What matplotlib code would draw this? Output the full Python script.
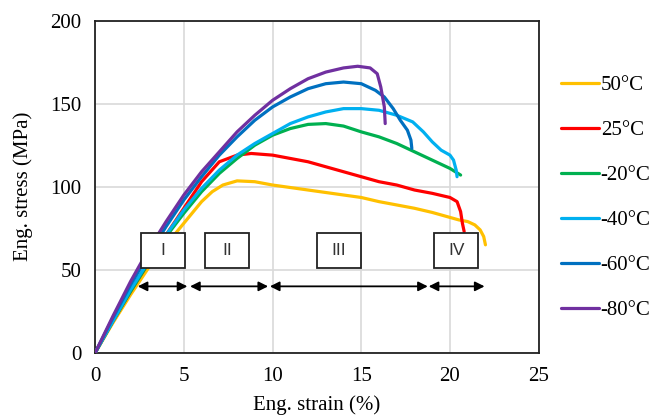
import matplotlib.pyplot as plt
from matplotlib.patches import Rectangle

# stress-strain data
labels = ['50°C', '25°C', '-20°C', '-40°C', '-60°C', '-80°C']
colors = ['#FFC000', '#FF0000', '#00B050', '#00B0F0', '#0070C0', '#7030A0']

strain_50 = [0, 1, 2, 3, 4, 5, 6, 6.6, 7.2, 8, 9, 10, 11, 12, 13, 14, 15, 16, 17, 18, 19, 20, 20.5, 21, 21.4, 21.7, 21.9, 22.0]
stress_50 = [0, 18, 35, 51, 65, 78, 91, 97, 101, 103.5, 103, 101, 99.5, 98, 96.5, 95, 93.5, 91, 89, 87, 84.5, 81.5, 80, 79, 77, 74, 70, 65]

strain_25 = [0, 1, 2, 3, 4, 5, 6, 7, 8, 8.8, 10, 11, 12, 13, 14, 15, 16, 17, 18, 19, 20, 20.4, 20.6, 20.7, 20.8]
stress_25 = [0, 19, 37, 54, 71, 87, 103, 115, 119, 120, 119, 117, 115, 112, 109, 106, 103, 101, 98, 96, 93.5, 91, 85, 78, 73]

strain_m20 = [0, 1, 2, 3, 4, 5, 6, 7, 8, 9, 10, 11, 12, 13, 14, 15, 16, 17, 18, 19, 20, 20.6]
stress_m20 = [0, 19, 37, 54, 70, 84, 97, 108, 117, 125, 131, 135, 137.5, 138, 136.5, 133, 130, 126, 121, 116, 111, 107]

strain_m40 = [0, 1, 2, 3, 4, 5, 6, 7, 8, 9, 10, 11, 12, 13, 14, 15, 16, 17, 17.9, 18.5, 19, 19.5, 20, 20.2, 20.35, 20.4]
stress_m40 = [0, 19, 38, 55, 71, 86, 99, 110, 119, 126, 132, 138, 142, 145, 147, 147, 146, 143, 139, 133, 127, 122, 119, 116, 110, 106]

strain_m60 = [0, 1, 2, 3, 4, 5, 6, 7, 8, 9, 10, 11, 12, 13, 14, 15, 15.8, 16.3, 16.8, 17.2, 17.6, 17.8, 17.85]
stress_m60 = [0, 21, 41, 59, 76, 92, 106, 119, 130, 140, 148, 154, 159, 162, 163, 162, 158, 154, 147, 140, 134, 128, 123]

strain_m80 = [0, 1, 2, 3, 4, 5, 6, 7, 8, 9, 10, 11, 12, 13, 14, 14.8, 15.5, 15.9, 16.1, 16.3, 16.35]
stress_m80 = [0, 22, 43, 62, 79, 95, 109, 121, 133, 143, 152, 159, 165, 169, 171.5, 172.5, 171.5, 168, 160, 148, 138]

strains = [strain_50, strain_25, strain_m20, strain_m40, strain_m60, strain_m80]
stresses = [stress_50, stress_25, stress_m20, stress_m40, stress_m60, stress_m80]

# deformation stages
stage_names = ['I', 'II', 'III', 'IV']
stage_bounds = [(2.4, 5.2), (5.35, 9.75), (9.85, 18.75), (18.8, 21.95)]
box_left = [2.56, 6.2, 12.5, 19.1]

plt.rcParams['font.family'] = ['Liberation Serif', 'DejaVu Serif']

fig = plt.figure(figsize=(6.7, 4.2), dpi=100)
ax = fig.add_axes([0.142, 0.16, 0.662, 0.791])

for x, y, c, lab in zip(strains, stresses, colors, labels):
    ax.plot(x, y, color=c, lw=2.3, label=lab, solid_capstyle='round', zorder=3)

for name, (a, b), bl in zip(stage_names, stage_bounds, box_left):
    ax.add_patch(Rectangle((bl, 51), 2.5, 21, facecolor='white', edgecolor='#222222',
                           lw=1.3, zorder=5))
    ax.text(bl + 1.25, 61.5, name, ha='center', va='center', fontsize=12.5,
            family='Liberation Sans', color='#333333', zorder=6)
    ax.annotate('', xy=(b, 40), xytext=(a, 40),
                arrowprops=dict(arrowstyle='<|-|>', color='black', lw=1.3,
                                mutation_scale=14, shrinkA=0, shrinkB=0), zorder=6)

ax.set_xlim(0, 25)
ax.set_ylim(0, 200)
ax.set_xticks([0, 5, 10, 15, 20, 25])
ax.set_yticks([0, 50, 100, 150, 200])
ax.grid(True, color='#d9d9d9', lw=1.2)
ax.set_axisbelow(True)
for s in ax.spines.values():
    s.set_color('#222222')
    s.set_linewidth(1.3)
ax.tick_params(length=0, labelsize=15, pad=10)
ax.set_xlabel('Eng. strain (%)', fontsize=15, labelpad=7)
ax.set_ylabel('Eng. stress (MPa)', fontsize=15, labelpad=12)

fig.legend(loc='upper left', bbox_to_anchor=(0.825, 0.84), frameon=False,
           fontsize=15, handlelength=1.8, handletextpad=0.1, labelspacing=1.22,
           borderaxespad=0)

fig.savefig('out.png', dpi=100)
